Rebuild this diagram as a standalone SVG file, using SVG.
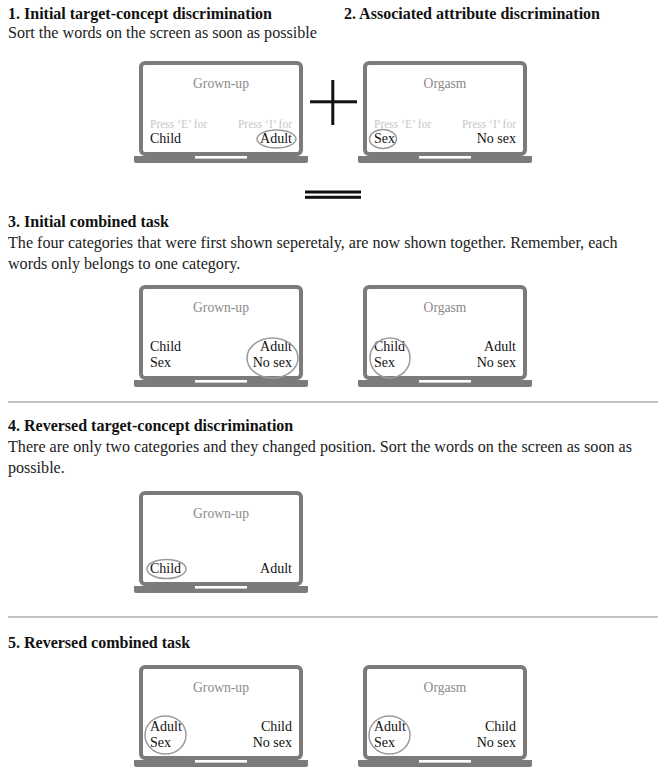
<svg xmlns="http://www.w3.org/2000/svg" xmlns:xlink="http://www.w3.org/1999/xlink" width="665" height="772" viewBox="0 0 665 772">
<style>
text{font-family:"Liberation Serif","Times New Roman",serif;}
.h{font-size:16px;font-weight:bold;fill:#111;}
.b{font-size:16.1px;fill:#222;}
.t{font-size:13.6px;fill:#8a8a8a;text-anchor:middle;}
.p{font-size:11.5px;fill:#c8c8c8;}
.w{font-size:14px;fill:#111;}
.r{text-anchor:end;}
.ov{fill:none;stroke:#9a9a9a;stroke-width:1.5;}
.sep{stroke:#8a8a8a;stroke-width:1.2;}
.sym{fill:#111;}
</style>
<defs>
<g id="laptop">
<rect x="2" y="2" width="160" height="91" rx="4" fill="#fff" stroke="#7b7b7b" stroke-width="4"/>
<path d="M-5 95 H169 V100 Q169 102 167 102 H-3 Q-5 102 -5 100 Z" fill="#7b7b7b"/>
<rect x="56" y="95" width="52" height="2.6" fill="#fff"/>
</g>
</defs>

<g id="headings">
<text class="h" x="8" y="19">1. Initial target-concept discrimination</text>
<text class="h" x="344" y="19">2. Associated attribute discrimination</text>
<text class="b" x="8" y="38">Sort the words on the screen as soon as possible</text>
<text class="h" x="8" y="227">3. Initial combined task</text>
<text class="b" x="8" y="248">The four categories that were first shown seperetaly, are now shown together. Remember, each</text>
<text class="b" x="8" y="269">words only belongs to one category.</text>
<text class="h" x="8" y="431">4. Reversed target-concept discrimination</text>
<text class="b" x="8" y="452">There are only two categories and they changed position. Sort the words on the screen as soon as</text>
<text class="b" x="8" y="473">possible.</text>
<text class="h" x="8" y="648">5. Reversed combined task</text>
</g>

<g id="symbols">
<rect class="sym" x="331.3" y="80" width="3" height="45"/>
<rect class="sym" x="310" y="100.3" width="47" height="3"/>
<rect class="sym" x="305" y="190.5" width="56" height="3"/>
<rect class="sym" x="305" y="195.8" width="56" height="3"/>
</g>

<g id="separators">
<line class="sep" x1="8" y1="402" x2="658" y2="402"/>
<line class="sep" x1="8" y1="617" x2="658" y2="617"/>
</g>

<g id="laptop-1a" transform="translate(139,61)">
<use xlink:href="#laptop" href="#laptop"/>
<text class="t" x="82" y="27">Grown-up</text>
<text class="p" x="11" y="67">Press ‘E’ for</text>
<text class="p r" x="153" y="67">Press ‘I’ for</text>
<text class="w" x="11" y="82">Child</text>
<text class="w r" x="153" y="82">Adult</text>
<ellipse class="ov" cx="137.5" cy="78" rx="19.5" ry="9"/>
</g>

<g id="laptop-1b" transform="translate(363,61)">
<use xlink:href="#laptop" href="#laptop"/>
<text class="t" x="82" y="27">Orgasm</text>
<text class="p" x="11" y="67">Press ‘E’ for</text>
<text class="p r" x="153" y="67">Press ‘I’ for</text>
<text class="w" x="11" y="82">Sex</text>
<text class="w r" x="153" y="82">No sex</text>
<ellipse class="ov" cx="20" cy="78" rx="13.5" ry="9.5"/>
</g>

<g id="laptop-3a" transform="translate(139,285)">
<use xlink:href="#laptop" href="#laptop"/>
<text class="t" x="82" y="27">Grown-up</text>
<text class="w" x="11" y="66">Child</text>
<text class="w" x="11" y="82">Sex</text>
<text class="w r" x="153" y="66">Adult</text>
<text class="w r" x="153" y="82">No sex</text>
<ellipse class="ov" cx="133.5" cy="73" rx="25.5" ry="20"/>
</g>

<g id="laptop-3b" transform="translate(363,285)">
<use xlink:href="#laptop" href="#laptop"/>
<text class="t" x="82" y="27">Orgasm</text>
<text class="w" x="11" y="66">Child</text>
<text class="w" x="11" y="82">Sex</text>
<text class="w r" x="153" y="66">Adult</text>
<text class="w r" x="153" y="82">No sex</text>
<ellipse class="ov" cx="27" cy="73" rx="20" ry="20"/>
</g>

<g id="laptop-4" transform="translate(139,491)">
<use xlink:href="#laptop" href="#laptop"/>
<text class="t" x="82" y="27">Grown-up</text>
<text class="w" x="11" y="82">Child</text>
<text class="w r" x="153" y="82">Adult</text>
<ellipse class="ov" cx="27.5" cy="78" rx="19.5" ry="9.5"/>
</g>

<g id="laptop-5a" transform="translate(139,665)">
<use xlink:href="#laptop" href="#laptop"/>
<text class="t" x="82" y="27">Grown-up</text>
<text class="w" x="11" y="66">Adult</text>
<text class="w" x="11" y="82">Sex</text>
<text class="w r" x="153" y="66">Child</text>
<text class="w r" x="153" y="82">No sex</text>
<ellipse class="ov" cx="26.5" cy="70" rx="20.5" ry="19"/>
</g>

<g id="laptop-5b" transform="translate(363,665)">
<use xlink:href="#laptop" href="#laptop"/>
<text class="t" x="82" y="27">Orgasm</text>
<text class="w" x="11" y="66">Adult</text>
<text class="w" x="11" y="82">Sex</text>
<text class="w r" x="153" y="66">Child</text>
<text class="w r" x="153" y="82">No sex</text>
<ellipse class="ov" cx="26.5" cy="70" rx="20.5" ry="19"/>
</g>
</svg>
